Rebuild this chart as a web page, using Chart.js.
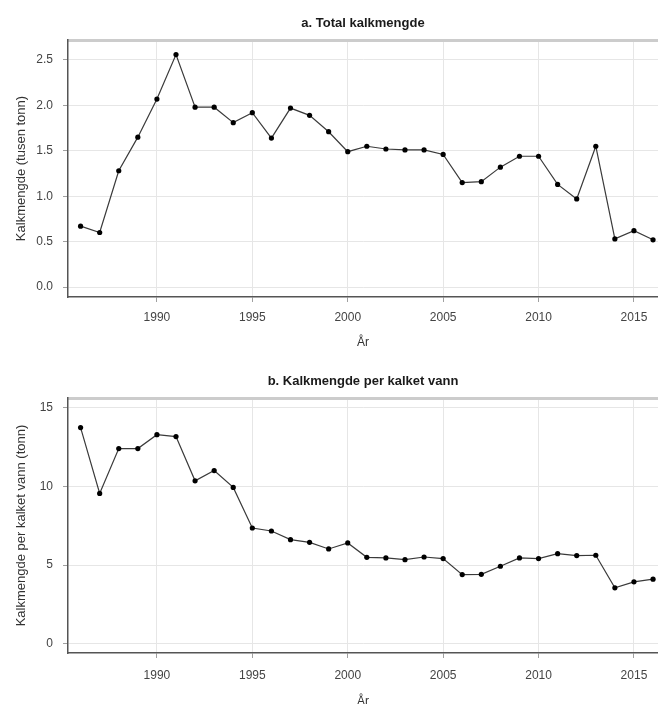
<!DOCTYPE html>
<html>
<head>
<meta charset="utf-8">
<script src="https://cdn.jsdelivr.net/npm/chart.js@4/dist/chart.umd.min.js"></script>
<style>
  html, body { margin: 0; padding: 0; background: #ffffff; }
  .panel { position: absolute; left: 0; width: 658px; height: 352px; }
  #panelA { top: 0; }
  #panelB { top: 352px; }
</style>
</head>
<body>
<div class="panel" id="panelA"><canvas id="chartA" width="658" height="352"></canvas></div>
<div class="panel" id="panelB"><canvas id="chartB" width="658" height="352"></canvas></div>
<script>
// Years of liming
const years = [1986, 1987, 1988, 1989, 1990, 1991, 1992, 1993, 1994, 1995, 1996,
               1997, 1998, 1999, 2000, 2001, 2002, 2003, 2004, 2005, 2006,
               2007, 2008, 2009, 2010, 2011, 2012, 2013, 2014, 2015, 2016];

// a. Total lime amount (thousand tonnes)
const totalKalk = [0.67, 0.60, 1.28, 1.65, 2.07, 2.56, 1.98, 1.98, 1.81, 1.92, 1.64,
                   1.97, 1.89, 1.71, 1.49, 1.55, 1.52, 1.51, 1.51, 1.46, 1.15,
                   1.16, 1.32, 1.44, 1.44, 1.13, 0.97, 1.55, 0.53, 0.62, 0.52];

// b. Lime amount per limed lake (tonnes)
const kalkPerVann = [13.73, 9.55, 12.40, 12.40, 13.28, 13.16, 10.35, 11.00, 9.93, 7.35, 7.16,
                     6.61, 6.44, 6.02, 6.40, 5.49, 5.45, 5.34, 5.51, 5.41, 4.39,
                     4.41, 4.92, 5.45, 5.41, 5.72, 5.60, 5.62, 3.55, 3.93, 4.10];

// Tick values
const xTicks = [1990, 1995, 2000, 2005, 2010, 2015];
const yTicksA = [0, 0.5, 1.0, 1.5, 2.0, 2.5];
const yTicksB = [0, 5, 10, 15];

const FONT = '"Liberation Sans", Arial, Helvetica, sans-serif';
const X_MIN = 1985.34, X_MAX = 2016.26;

function buildChart(canvasId, opts) {
  const points = years.map((yr, i) => ({ x: yr, y: opts.values[i] }));
  return new Chart(document.getElementById(canvasId), {
    type: 'line',
    data: {
      datasets: [{
        data: points,
        borderColor: '#3a3a3a',
        borderWidth: 1.2,
        pointRadius: 2.6,
        pointBackgroundColor: '#000000',
        pointBorderWidth: 0,
        tension: 0,
        fill: false
      }]
    },
    options: {
      responsive: false,
      animation: false,
      events: [],
      layout: { padding: 0, autoPadding: false },
      plugins: {
        legend: { display: false },
        tooltip: { enabled: false },
        title: {
          display: true,
          text: opts.title,
          fullSize: false,
          color: '#1a1a1a',
          font: { family: FONT, size: 13, weight: 'bold', lineHeight: 1.2 },
          padding: { top: opts.titleTop, bottom: opts.titleBottom }
        }
      },
      scales: {
        x: {
          type: 'linear',
          position: 'bottom',
          min: X_MIN,
          max: X_MAX,
          afterBuildTicks: s => { s.ticks = xTicks.map(v => ({ value: v })); },
          afterFit: s => { s.height = opts.xAxisHeight; },
          ticks: {
            color: '#444444',
            font: { family: FONT, size: 12 },
            padding: opts.xLabelPad,
            maxRotation: 0,
            autoSkip: false,
            callback: v => String(v)
          },
          grid: {
            color: '#e6e6e6',
            lineWidth: 1,
            tickColor: '#a0a0a0',
            tickLength: 5
          },
          border: { display: true, color: '#555555', width: 1.5 },
          title: {
            display: true,
            text: 'År',
            color: '#333333',
            font: { family: FONT, size: 12, lineHeight: 1.2 },
            padding: { top: 0, bottom: opts.xTitleBottom }
          }
        },
        xTop: {
          type: 'linear',
          position: 'top',
          min: X_MIN,
          max: X_MAX,
          afterFit: s => { s.height = 0; },
          ticks: { display: false },
          grid: { display: false, drawTicks: false },
          border: { display: true, color: '#cccccc', width: 3 }
        },
        y: {
          type: 'linear',
          position: 'left',
          min: opts.yMin,
          max: opts.yMax,
          afterBuildTicks: s => { s.ticks = opts.yTicks.map(v => ({ value: v })); },
          afterFit: s => { s.width = 68; },
          ticks: {
            color: '#444444',
            font: { family: FONT, size: 12 },
            padding: 10,
            callback: opts.yFormat
          },
          grid: {
            color: '#e6e6e6',
            lineWidth: 1,
            tickColor: '#a0a0a0',
            tickLength: 5
          },
          border: { display: true, color: '#555555', width: 1.5 },
          title: {
            display: true,
            text: opts.yTitle,
            color: '#333333',
            font: { family: FONT, size: 13, lineHeight: 1.2 },
            padding: { top: 14, bottom: 0 }
          }
        }
      }
    }
  });
}

buildChart('chartA', {
  values: totalKalk,
  title: 'a. Total kalkmengde',
  yTitle: 'Kalkmengde (tusen tonn)',
  yTicks: yTicksA,
  yMin: -0.11,
  yMax: 2.72,
  yFormat: v => Number(v).toFixed(1),
  titleTop: 16,
  titleBottom: 8.4,
  xAxisHeight: 55,
  xLabelPad: 8,
  xTitleBottom: 2
});

buildChart('chartB', {
  values: kalkPerVann,
  title: 'b. Kalkmengde per kalket vann',
  yTitle: 'Kalkmengde per kalket vann (tonn)',
  yTicks: yTicksB,
  yMin: -0.59,
  yMax: 15.61,
  yFormat: v => String(v),
  titleTop: 22,
  titleBottom: 8.4,
  xAxisHeight: 51,
  xLabelPad: 10,
  xTitleBottom: -5
});
</script>
</body>
</html>
